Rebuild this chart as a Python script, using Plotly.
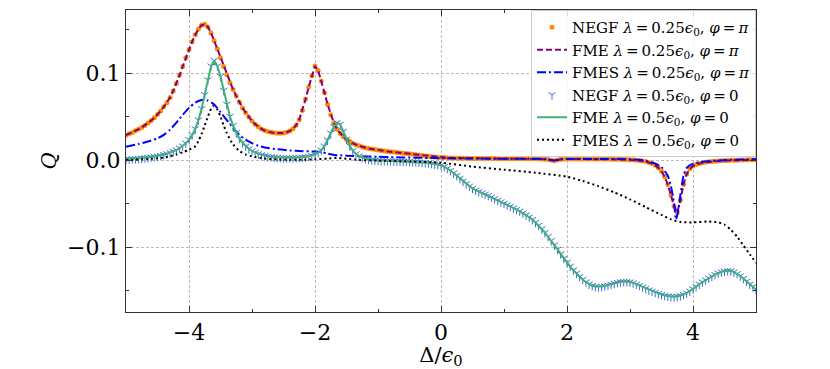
import plotly.graph_objects as go

# detuning grid of the NEGF / FME curves (Delta / eps0)
delta = [
    -5.00, -4.95, -4.90, -4.85, -4.80, -4.75, -4.70, -4.65, -4.60, -4.55,
    -4.50, -4.45, -4.40, -4.35, -4.30, -4.25, -4.20, -4.15, -4.10, -4.05,
    -4.00, -3.95, -3.90, -3.85, -3.80, -3.75, -3.70, -3.65, -3.60, -3.55,
    -3.50, -3.45, -3.40, -3.35, -3.30, -3.25, -3.20, -3.15, -3.10, -3.05,
    -3.00, -2.95, -2.90, -2.85, -2.80, -2.75, -2.70, -2.65, -2.60, -2.55,
    -2.50, -2.45, -2.40, -2.35, -2.30, -2.25, -2.20, -2.15, -2.10, -2.05,
    -2.00, -1.95, -1.90, -1.85, -1.80, -1.75, -1.70, -1.65, -1.60, -1.55,
    -1.50, -1.45, -1.40, -1.35, -1.30, -1.25, -1.20, -1.15, -1.10, -1.05,
    -1.00, -0.95, -0.90, -0.85, -0.80, -0.75, -0.70, -0.65, -0.60, -0.55,
    -0.50, -0.45, -0.40, -0.35, -0.30, -0.25, -0.20, -0.15, -0.10, -0.05,
    0.00, 0.05, 0.10, 0.15, 0.20, 0.25, 0.30, 0.35, 0.40, 0.45,
    0.50, 0.55, 0.60, 0.65, 0.70, 0.75, 0.80, 0.85, 0.90, 0.95,
    1.00, 1.05, 1.10, 1.15, 1.20, 1.25, 1.30, 1.35, 1.40, 1.45,
    1.50, 1.55, 1.60, 1.65, 1.70, 1.75, 1.80, 1.85, 1.90, 1.95,
    2.00, 2.05, 2.10, 2.15, 2.20, 2.25, 2.30, 2.35, 2.40, 2.45,
    2.50, 2.55, 2.60, 2.65, 2.70, 2.75, 2.80, 2.85, 2.90, 2.95,
    3.00, 3.05, 3.10, 3.15, 3.20, 3.25, 3.30, 3.35, 3.40, 3.45,
    3.50, 3.55, 3.60, 3.65, 3.70, 3.75, 3.80, 3.85, 3.90, 3.95,
    4.00, 4.05, 4.10, 4.15, 4.20, 4.25, 4.30, 4.35, 4.40, 4.45,
    4.50, 4.55, 4.60, 4.65, 4.70, 4.75, 4.80, 4.85, 4.90, 4.95,
    5.00,
]

# lambda = 0.25 eps0, phi = pi  (NEGF and FME lie on top of each other)
q_pi = [
    0.0287, 0.0302, 0.0318, 0.0336, 0.0355, 0.0376, 0.0399, 0.0425, 0.0454, 0.0487,
    0.0524, 0.0565, 0.0612, 0.0660, 0.0720, 0.0795, 0.0880, 0.0975, 0.1075, 0.1175,
    0.1270, 0.1360, 0.1440, 0.1505, 0.1550, 0.1560, 0.1530, 0.1460, 0.1370, 0.1275,
    0.1175, 0.1075, 0.0980, 0.0890, 0.0810, 0.0735, 0.0665, 0.0600, 0.0545, 0.0495,
    0.0450, 0.0413, 0.0382, 0.0358, 0.0340, 0.0328, 0.0319, 0.0313, 0.0310, 0.0309,
    0.0312, 0.0320, 0.0335, 0.0360, 0.0400, 0.0465, 0.0570, 0.0700, 0.0840, 0.0970,
    0.1080, 0.1030, 0.0910, 0.0775, 0.0640, 0.0520, 0.0425, 0.0355, 0.0305, 0.0268,
    0.0238, 0.0214, 0.0194, 0.0178, 0.0164, 0.0152, 0.0142, 0.0134, 0.0127, 0.0121,
    0.0115, 0.0110, 0.0105, 0.0100, 0.0096, 0.0092, 0.0088, 0.0084, 0.0080, 0.0076,
    0.0072, 0.0067, 0.0062, 0.0057, 0.0052, 0.0048, 0.0044, 0.0040, 0.0037, 0.0034,
    0.0031, 0.0029, 0.0027, 0.0025, 0.0024, 0.0023, 0.0022, 0.0021, 0.0021, 0.0020,
    0.0020, 0.0019, 0.0019, 0.0019, 0.0018, 0.0018, 0.0018, 0.0018, 0.0017, 0.0017,
    0.0017, 0.0017, 0.0017, 0.0016, 0.0016, 0.0016, 0.0016, 0.0016, 0.0015, 0.0015,
    0.0015, 0.0014, 0.0013, 0.0011, 0.0006, -0.0002, -0.0008, 0.0001, 0.0010, 0.0013,
    0.0014, 0.0014, 0.0014, 0.0014, 0.0014, 0.0014, 0.0013, 0.0013, 0.0013, 0.0013,
    0.0013, 0.0012, 0.0012, 0.0012, 0.0011, 0.0011, 0.0010, 0.0009, 0.0008, 0.0007,
    0.0005, 0.0003, 0.0000, -0.0004, -0.0009, -0.0016, -0.0026, -0.0040, -0.0060, -0.0088,
    -0.0128, -0.0190, -0.0280, -0.0400, -0.0530, -0.0600, -0.0460, -0.0280, -0.0160, -0.0100,
    -0.0068, -0.0050, -0.0038, -0.0030, -0.0024, -0.0019, -0.0015, -0.0012, -0.0009, -0.0007,
    -0.0005, -0.0003, -0.0002, -0.0001, 0.0000, 0.0001, 0.0002, 0.0003, 0.0004, 0.0004,
    0.0005,
]

# lambda = 0.5 eps0, phi = 0  (NEGF and FME lie on top of each other)
q_zero = [
    0.0010, 0.0012, 0.0014, 0.0016, 0.0019, 0.0022, 0.0026, 0.0030, 0.0035, 0.0040,
    0.0046, 0.0053, 0.0062, 0.0072, 0.0084, 0.0098, 0.0115, 0.0136, 0.0162, 0.0195,
    0.0236, 0.0290, 0.0360, 0.0460, 0.0590, 0.0750, 0.0920, 0.1080, 0.1145, 0.1080,
    0.0960, 0.0800, 0.0640, 0.0500, 0.0395, 0.0315, 0.0250, 0.0200, 0.0160, 0.0130,
    0.0106, 0.0087, 0.0072, 0.0060, 0.0050, 0.0043, 0.0037, 0.0033, 0.0030, 0.0028,
    0.0027, 0.0026, 0.0026, 0.0027, 0.0028, 0.0030, 0.0033, 0.0037, 0.0043, 0.0052,
    0.0065, 0.0085, 0.0115, 0.0160, 0.0230, 0.0310, 0.0385, 0.0430, 0.0410, 0.0330,
    0.0240, 0.0165, 0.0110, 0.0072, 0.0047, 0.0030, 0.0018, 0.0010, 0.0004, 0.0000,
    -0.0003, -0.0005, -0.0007, -0.0008, -0.0009, -0.0010, -0.0011, -0.0012, -0.0013, -0.0014,
    -0.0016, -0.0018, -0.0020, -0.0023, -0.0026, -0.0030, -0.0034, -0.0039, -0.0045, -0.0052,
    -0.0060, -0.0075, -0.0095, -0.0120, -0.0148, -0.0178, -0.0210, -0.0242, -0.0272, -0.0300,
    -0.0325, -0.0345, -0.0362, -0.0377, -0.0392, -0.0408, -0.0425, -0.0443, -0.0462, -0.0480,
    -0.0498, -0.0515, -0.0532, -0.0550, -0.0568, -0.0588, -0.0608, -0.0630, -0.0655, -0.0683,
    -0.0715, -0.0750, -0.0790, -0.0833, -0.0878, -0.0925, -0.0975, -0.1025, -0.1077, -0.1128,
    -0.1175, -0.1220, -0.1262, -0.1300, -0.1338, -0.1370, -0.1400, -0.1425, -0.1442, -0.1452,
    -0.1455, -0.1452, -0.1445, -0.1435, -0.1425, -0.1415, -0.1405, -0.1398, -0.1395, -0.1395,
    -0.1400, -0.1410, -0.1425, -0.1440, -0.1458, -0.1475, -0.1492, -0.1507, -0.1520, -0.1533,
    -0.1545, -0.1555, -0.1562, -0.1567, -0.1568, -0.1565, -0.1558, -0.1545, -0.1528, -0.1505,
    -0.1480, -0.1452, -0.1425, -0.1400, -0.1378, -0.1355, -0.1335, -0.1315, -0.1298, -0.1285,
    -0.1275, -0.1270, -0.1272, -0.1285, -0.1305, -0.1330, -0.1360, -0.1392, -0.1425, -0.1455,
    -0.1485,
]

# FMES, lambda = 0.25 eps0, phi = pi
delta_fmes_pi = [
    -5.0, -4.8, -4.6, -4.5, -4.4, -4.3, -4.2, -4.1, -4.0, -3.9,
    -3.8, -3.75, -3.7, -3.6, -3.5, -3.4, -3.3, -3.2, -3.1, -3.0,
    -2.9, -2.8, -2.6, -2.4, -2.2, -2.0, -1.9, -1.8, -1.7, -1.6,
    -1.4, -1.2, -1.0, -0.8, -0.6, -0.4, -0.2, 0.0, 0.5, 1.0,
    1.5, 1.7, 1.8, 1.9, 2.0, 2.5, 3.0, 3.2, 3.4, 3.5,
    3.6, 3.65, 3.7, 3.73, 3.77, 3.8, 3.85, 3.9, 4.0, 4.2,
    4.5, 5.0,
]
q_fmes_pi = [
    0.0153, 0.0185, 0.0225, 0.0250, 0.0290, 0.0350, 0.0430, 0.0520, 0.0600, 0.0660,
    0.0690, 0.0692, 0.0685, 0.0640, 0.0550, 0.0460, 0.0370, 0.0290, 0.0235, 0.0195,
    0.0165, 0.0145, 0.0125, 0.0112, 0.0103, 0.0098, 0.0092, 0.0075, 0.0060, 0.0055,
    0.0048, 0.0043, 0.0038, 0.0034, 0.0031, 0.0028, 0.0025, 0.0022, 0.0018, 0.0016,
    0.0015, 0.0010, -0.0005, 0.0010, 0.0014, 0.0013, 0.0010, 0.0000, -0.0040, -0.0080,
    -0.0180, -0.0300, -0.0500, -0.0680, -0.0560, -0.0400, -0.0180, -0.0090, -0.0040, -0.0015,
    0.0000, 0.0010,
]

# FMES, lambda = 0.5 eps0, phi = 0
delta_fmes_0 = [
    -5.0, -4.6, -4.4, -4.2, -4.1, -4.0, -3.9, -3.85, -3.8, -3.75,
    -3.7, -3.65, -3.62, -3.55, -3.5, -3.45, -3.4, -3.3, -3.2, -3.1,
    -3.0, -2.8, -2.6, -2.4, -2.2, -2.0, -1.8, -1.65, -1.5, -1.3,
    -1.0, -0.5, 0.0, 0.5, 1.0, 1.5, 2.0, 2.25, 2.5, 2.75,
    3.0, 3.25, 3.5, 3.65, 3.8, 4.0, 4.25, 4.4, 4.5, 4.6,
    4.7, 4.8, 4.9, 5.0,
]
q_fmes_0 = [
    0.0000, 0.0015, 0.0030, 0.0065, 0.0090, 0.0120, 0.0160, 0.0220, 0.0300, 0.0400,
    0.0500, 0.0590, 0.0620, 0.0580, 0.0500, 0.0400, 0.0310, 0.0180, 0.0105, 0.0065,
    0.0042, 0.0018, 0.0008, 0.0004, 0.0005, 0.0009, 0.0018, 0.0025, 0.0015, 0.0002,
    -0.0006, -0.0015, -0.0030, -0.0075, -0.0110, -0.0145, -0.0190, -0.0240, -0.0300, -0.0370,
    -0.0450, -0.0540, -0.0630, -0.0680, -0.0710, -0.0715, -0.0705, -0.0715, -0.0740, -0.0800,
    -0.0880, -0.0980, -0.1080, -0.1180,
]

lab_pi = "<i>λ</i>\u2009=\u20090.25<i>ϵ</i><sub>0</sub>, <i>φ</i>\u2009=\u2009<i>π</i>"
lab_0 = "<i>λ</i>\u2009=\u20090.5<i>ϵ</i><sub>0</sub>, <i>φ</i>\u2009=\u20090"

fig = go.Figure()

fig.add_trace(go.Scatter(
    x=delta, y=q_pi, mode='markers', name='NEGF ' + lab_pi,
    marker=dict(color='#ff8c00', size=5, line=dict(width=0))
))
fig.add_trace(go.Scatter(
    x=delta, y=q_pi, mode='lines', name='FME ' + lab_pi,
    line=dict(color='purple', width=2, dash='6px,3px')
))
fig.add_trace(go.Scatter(
    x=delta_fmes_pi, y=q_fmes_pi, mode='lines', name='FMES ' + lab_pi,
    line=dict(color='blue', width=2, dash='9px,3px,2px,3px', shape='spline', smoothing=0.6)
))
fig.add_trace(go.Scatter(
    x=delta, y=q_zero, mode='markers', name='NEGF ' + lab_0,
    marker=dict(symbol='y-down', color='royalblue', size=6,
                line=dict(color='royalblue', width=1))
))
fig.add_trace(go.Scatter(
    x=delta, y=q_zero, mode='lines', name='FME ' + lab_0,
    line=dict(color='mediumseagreen', width=2)
))
fig.add_trace(go.Scatter(
    x=delta_fmes_0, y=q_fmes_0, mode='lines', name='FMES ' + lab_0,
    line=dict(color='black', width=2, dash='2px,3px', shape='spline', smoothing=0.6)
))

axis_style = dict(
    showline=True, linecolor='#333333', linewidth=1.2, mirror='allticks',
    ticks='inside', ticklen=6, tickwidth=1, tickcolor='#333333',
    showgrid=True, gridcolor='#bbbbbb', griddash='3px,2px', gridwidth=1,
    zeroline=False, automargin=False,
    tickfont=dict(size=22),
)

fig.update_xaxes(
    range=[-5, 5], dtick=2, tick0=0,
    minor=dict(dtick=1, ticks='inside', ticklen=3, tickcolor='#333333', showgrid=False),
    title=dict(text='Δ/<i>ϵ</i><sub>0</sub>', standoff=0, font=dict(size=21)),
    **axis_style
)
fig.update_yaxes(
    range=[-0.1744, 0.1724], dtick=0.1, tick0=0, tickformat='.1f',
    minor=dict(dtick=0.05, ticks='inside', ticklen=3, tickcolor='#333333', showgrid=False),
    title=dict(text='<i>Q</i>', standoff=4, font=dict(size=21)),
    **axis_style
)

# the page body adds an 8px offset, so the figure is drawn 8px smaller
fig.update_layout(
    width=822, height=361,
    margin=dict(l=118, r=74, t=2, b=57),
    plot_bgcolor='white', paper_bgcolor='white',
    font=dict(family='DejaVu Serif', size=20, color='black'),
    legend=dict(
        x=1, y=1, xanchor='right', yanchor='top',
        bgcolor='rgba(255,255,255,0.85)', bordercolor='#cccccc', borderwidth=1,
        font=dict(size=15), tracegroupgap=0,
    ),
)

fig.write_html("out.html")
